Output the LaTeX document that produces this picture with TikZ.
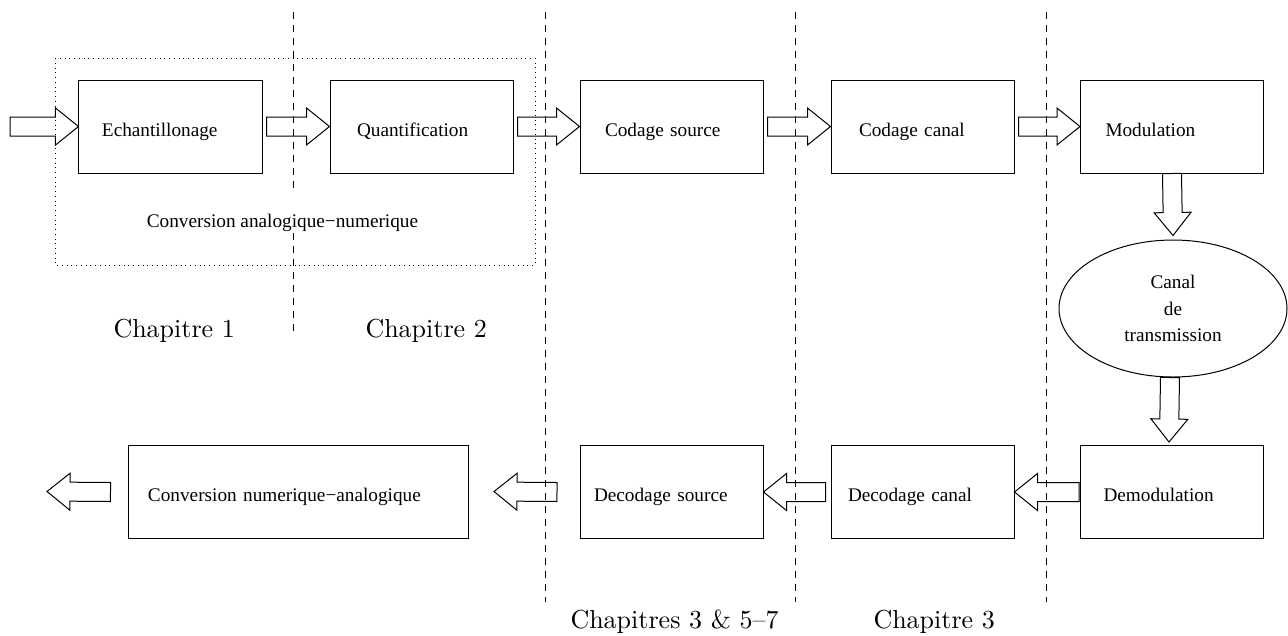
\documentclass[tikz,border=0pt]{standalone}
\usepackage{fontspec}
\newfontfamily\tnr{Liberation Serif}
\usetikzlibrary{shapes,calc}

\tikzset{
  boite/.style={draw, minimum height=37.2pt, text width=73.2pt, text height=7.6pt, text depth=0pt,
                inner xsep=0pt, align=left, font=\tnr\fontsize{7.7}{10.6}\selectfont},
  separ/.style={dash pattern=on 2.8pt off 2.4pt},
  chap/.style={anchor=base west, inner sep=0pt, font=\fontsize{10.4}{12}\selectfont}
}

% grosse fleche creuse de #1 vers #2
\newcommand{\fleche}[2]{%
  \draw let \p1=(#1), \p2=(#2), \n1={atan2(\y2-\y1,\x2-\x1)}, \n2={veclen(\x2-\x1,\y2-\y1)} in
    [shift={(\p1)}, rotate=\n1]
    (0pt,-3.8pt) -- (\n2*1pt-9.2pt,-3.8pt) -- (\n2*1pt-9.2pt,-7.4pt) -- (\n2*1pt,0pt)
    -- (\n2*1pt-9.2pt,7.4pt) -- (\n2*1pt-9.2pt,3.8pt) -- (0pt,3.8pt) -- cycle;}

\begin{document}
\begin{tikzpicture}[x=0.4pt,y=-0.4pt]
  \useasboundingbox (0,0) rectangle (1288,635);

  % separations des chapitres
  \draw[separ] (293,12) -- (293,190) (293,233) -- (293,333);
  \draw[separ] (545,12) -- (545,602);
  \draw[separ] (795,12) -- (795,602);
  \draw[separ] (1046,12) -- (1046,602);
  \draw[dash pattern=on 0.4pt off 1.5pt] (55,58) rectangle (535,265);

  % chaine d'emission
  \node[boite] (ech) at (170.5,126.5) {\hspace*{9.2pt}Echantillonage};
  \node[boite] (quant) at (421.5,126.5) {\hspace*{10.8pt}Quantification};
  \node[boite] (csrc) at (671.5,126.5) {\hspace*{10pt}Codage source};
  \node[boite] (ccan) at (922.5,126.5) {\hspace*{11.2pt}Codage canal};
  \node[boite] (mod) at (1172,126.5) {\hspace*{10pt}Modulation};
  \node[anchor=base, inner sep=0pt, font=\tnr\fontsize{7.7}{10.6}\selectfont] (can) at (282.5,227)
       {Conversion analogique−numerique};

  \node[draw, ellipse, minimum width=91.2pt, minimum height=54.8pt, inner sep=0pt, align=center,
        font=\tnr\fontsize{7.7}{10.6}\selectfont] (canal) at (1173,308.5) {Canal\\de\\transmission};

  % chaine de reception
  \node[boite] (demod) at (1172,492) {\hspace*{9.2pt}Demodulation};
  \node[boite] (dcan) at (922.5,492) {\hspace*{6.8pt}Decodage canal};
  \node[boite] (dsrc) at (671.5,492) {\hspace*{5.6pt}Decodage source};
  \node[boite, text width=135.6pt] (cna) at (298.5,492) {\hspace*{7.6pt}Conversion numerique−analogique};

  \coordinate (entree) at (10,126.5);
  \coordinate (fin) at (494,491.5);
  \coordinate (sortie) at (47,491.5);

  \fleche{entree}{ech.west}
  \fleche{[xshift=1.6pt]ech.east}{quant.west}
  \fleche{[xshift=1.6pt]quant.east}{csrc.west}
  \fleche{[xshift=1.6pt]csrc.east}{ccan.west}
  \fleche{[xshift=1.6pt]ccan.east}{mod.west}
  \fleche{mod.south}{[yshift=1.6pt]canal.north}
  \fleche{[xshift=-1.2pt]canal.south}{[xshift=-1.2pt,yshift=1.2pt]demod.north}
  \fleche{[xshift=-0.4pt]demod.west}{dcan.east}
  \fleche{[xshift=-2pt]dcan.west}{dsrc.east}
  \fleche{[xshift=-9pt]dsrc.west}{fin}
  \fleche{[xshift=-7.2pt]cna.west}{sortie}

  \node[chap] (ch1) at (113,337) {Chapitre 1};
  \node[chap] (ch2) at (365,337) {Chapitre 2};
  \node[chap] (ch357) at (570,628) {Chapitres 3 \& 5--7};
  \node[chap] (ch3) at (873,628) {Chapitre 3};
\end{tikzpicture}
\end{document}
